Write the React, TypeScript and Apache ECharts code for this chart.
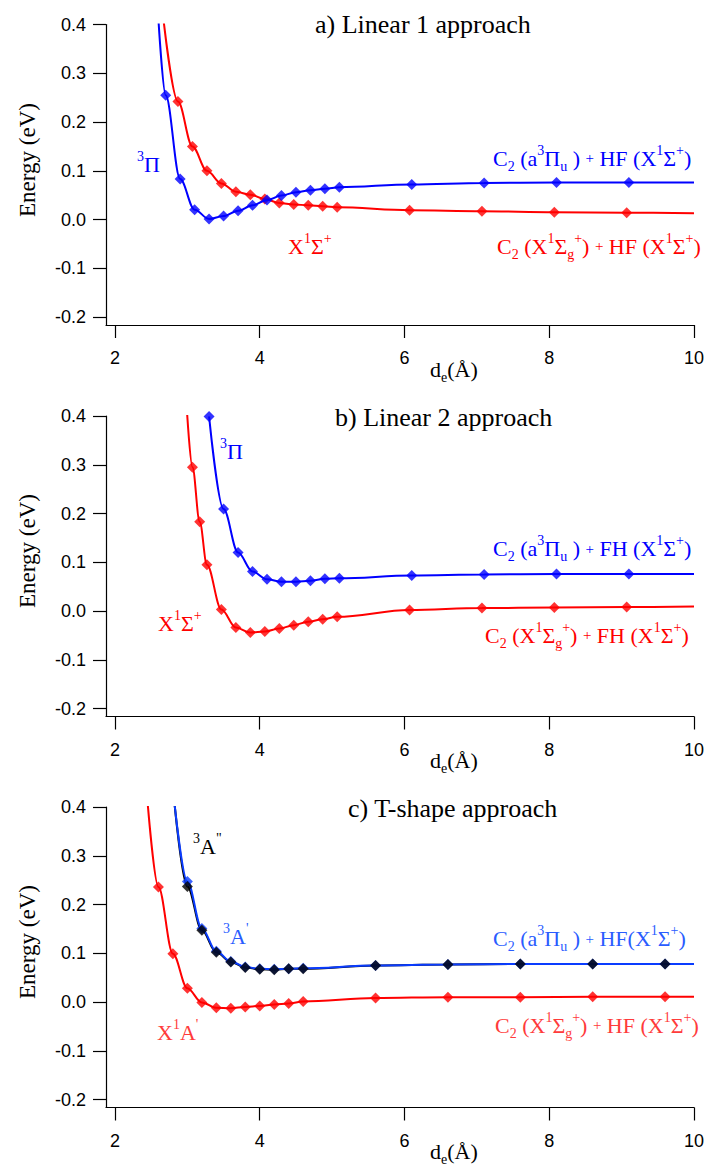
import React, { useEffect, useRef } from "react";
import * as echarts from "echarts";

const SERIF = "'Liberation Serif', 'Times New Roman', serif";
const SANS = "'Liberation Sans', Arial, sans-serif";

const BLUE = "#0000ff";
const RED = "#ff0000";
const BLUE_C = "#0a3cff";
const BLACK = "#000000";

// axis ticks
const xTicks = [2, 4, 6, 8, 10];
const yTicks = [-0.2, -0.1, 0, 0.1, 0.2, 0.3, 0.4];

// ---------- a) Linear 1 approach ----------
const aPiX = [2.7, 2.9, 3.1, 3.3, 3.5, 3.7, 3.9, 4.1, 4.3, 4.5, 4.7, 4.9, 5.1, 6.1, 7.1, 8.1, 9.1];
const aPiE = [0.255, 0.083, 0.02, 0.001, 0.007, 0.018, 0.029, 0.04, 0.049, 0.056, 0.06, 0.063, 0.066, 0.072, 0.075, 0.076, 0.076];
const aPiStart = [2.6, 0.41];
const aPiEnd = [10, 0.076];

const aSigX = [2.87, 3.07, 3.27, 3.47, 3.67, 3.87, 4.07, 4.27, 4.47, 4.67, 4.87, 5.07, 6.07, 7.07, 8.07, 9.07];
const aSigE = [0.242, 0.15, 0.1, 0.074, 0.057, 0.051, 0.042, 0.034, 0.031, 0.029, 0.027, 0.025, 0.019, 0.017, 0.015, 0.014];
const aSigStart = [2.67, 0.41];
const aSigEnd = [10, 0.013];

// ---------- b) Linear 2 approach ----------
const bPiX = [3.3, 3.5, 3.7, 3.9, 4.1, 4.3, 4.5, 4.7, 4.9, 5.1, 6.1, 7.1, 8.1, 9.1];
const bPiE = [0.399, 0.209, 0.12, 0.081, 0.065, 0.06, 0.06, 0.062, 0.066, 0.067, 0.073, 0.075, 0.076, 0.076];
const bPiEnd = [10, 0.076];

const bSigX = [3.07, 3.17, 3.27, 3.47, 3.67, 3.87, 4.07, 4.27, 4.47, 4.67, 4.87, 5.07, 6.07, 7.07, 8.07, 9.07];
const bSigE = [0.295, 0.183, 0.095, 0.003, -0.034, -0.044, -0.042, -0.036, -0.029, -0.022, -0.017, -0.012, 0.002, 0.006, 0.007, 0.008];
const bSigStart = [2.99, 0.42];
const bSigEnd = [10, 0.009];

// ---------- c) T-shape approach ----------
const cTripX = [3.0, 3.2, 3.4, 3.6, 3.8, 4.0, 4.2, 4.4, 4.6, 5.6, 6.6, 7.6, 8.6, 9.6];
const cA2E = [0.237, 0.147, 0.102, 0.082, 0.071, 0.067, 0.066, 0.068, 0.068, 0.075, 0.077, 0.078, 0.078, 0.078]; // 3A''
const cA1E = [0.247, 0.151, 0.104, 0.083, 0.072, 0.068, 0.067, 0.068, 0.069, 0.075, 0.077, 0.078, 0.078, 0.078]; // 3A'
const cTripStart = [2.82, 0.41];
const cTripEnd = [10, 0.078];

const cSingX = [2.6, 2.8, 3.0, 3.2, 3.4, 3.6, 3.8, 4.0, 4.2, 4.4, 4.6, 5.6, 6.6, 7.6, 8.6, 9.6];
const cSingE = [0.236, 0.099, 0.028, -0.001, -0.012, -0.013, -0.01, -0.008, -0.005, -0.003, 0.001, 0.008, 0.01, 0.01, 0.011, 0.011];
const cSingStart = [2.45, 0.41];
const cSingEnd = [10, 0.011];

const GRID_TOPS = [24.5, 416, 807];
const GRID_H = 300.5;
const X_MIN = 1.8756;
const X_MAX = 10;
const Y_MIN = -0.2164;
const Y_MAX = 0.4;

function zip(xs: number[], ys: number[]) {
  return xs.map((x, i) => [x, ys[i]]);
}

function rich(color: string) {
  return {
    n: { fontFamily: SERIF, fontSize: 22, fill: color, lineHeight: 30 },
    sup: { fontFamily: SERIF, fontSize: 14, fill: color, lineHeight: 14, verticalAlign: "top" },
    sub: { fontFamily: SERIF, fontSize: 14, fill: color, lineHeight: 14, verticalAlign: "bottom" },
    pl: { fontFamily: SERIF, fontSize: 15, fill: color, lineHeight: 30 },
  };
}

function label(x: number, y: number, text: string, color: string) {
  return {
    type: "text",
    x,
    y,
    silent: true,
    style: {
      text,
      fill: color,
      fontFamily: SERIF,
      fontSize: 22,
      align: "left",
      verticalAlign: "middle",
      rich: rich(color),
    },
  };
}

function plain(x: number, y: number, text: string, size: number, rotation = 0, align = "left") {
  return {
    type: "text",
    x,
    y,
    rotation,
    silent: true,
    style: {
      text,
      fill: BLACK,
      fontFamily: SERIF,
      fontSize: size,
      align,
      verticalAlign: "middle",
    },
  };
}

function lineSeries(idx: number, data: number[][], color: string, z: number) {
  return {
    type: "line",
    xAxisIndex: idx,
    yAxisIndex: idx,
    data,
    showSymbol: false,
    symbol: "none",
    smooth: 0.35,
    smoothMonotone: "x",
    clip: true,
    lineStyle: { color, width: 2 },
    z,
  };
}

function markSeries(idx: number, data: number[][], color: string, z: number) {
  return {
    type: "scatter",
    xAxisIndex: idx,
    yAxisIndex: idx,
    data,
    symbol: "diamond",
    symbolSize: 11,
    itemStyle: { color },
    z,
  };
}

const C2_PI_HF = "{n|C}{sub|2}{n| (a}{sup|3}{n|Π}{sub|u}{n| ) }{pl|+}{n| HF (X}{sup|1}{n|Σ}{sup|+}{n|)}";
const C2_SIG_HF = "{n|C}{sub|2}{n| (X}{sup|1}{n|Σ}{sub|g}{sup|+}{n|) }{pl|+}{n| HF (X}{sup|1}{n|Σ}{sup|+}{n|)}";
const C2_PI_FH = "{n|C}{sub|2}{n| (a}{sup|3}{n|Π}{sub|u}{n| ) }{pl|+}{n| FH (X}{sup|1}{n|Σ}{sup|+}{n|)}";
const C2_SIG_FH = "{n|C}{sub|2}{n| (X}{sup|1}{n|Σ}{sub|g}{sup|+}{n|) }{pl|+}{n| FH (X}{sup|1}{n|Σ}{sup|+}{n|)}";
const C2_PI_HF_C = "{n|C}{sub|2}{n| (a}{sup|3}{n|Π}{sub|u}{n| ) }{pl|+}{n| HF(X}{sup|1}{n|Σ}{sup|+}{n|)}";

export default function App() {
  const ref = useRef<HTMLDivElement>(null);
  useEffect(() => {
    document.body.style.margin = "0";
    if (!ref.current) return;
    const chart = echarts.init(ref.current, null, { renderer: "svg" });

    const axisLineStyle = { color: BLACK, width: 1.2 };
    const grids = GRID_TOPS.map((top) => ({ left: 106, width: 588, top, height: GRID_H }));
    const xAxes = GRID_TOPS.map((_, i) => ({
      type: "value",
      gridIndex: i,
      min: X_MIN,
      max: X_MAX,
      axisLine: { show: true, onZero: false, lineStyle: axisLineStyle },
      axisTick: { show: true, inside: false, length: 13, customValues: xTicks, lineStyle: axisLineStyle },
      axisLabel: {
        customValues: xTicks,
        margin: 24,
        fontSize: 18,
        fontFamily: SANS,
        color: BLACK,
        formatter: (v: number) => String(Math.round(v)),
      },
      splitLine: { show: false },
    }));
    const yAxes = GRID_TOPS.map((_, i) => ({
      type: "value",
      gridIndex: i,
      min: Y_MIN,
      max: Y_MAX,
      axisLine: { show: true, onZero: false, lineStyle: axisLineStyle },
      axisTick: { show: true, inside: false, length: 13, customValues: yTicks, lineStyle: axisLineStyle },
      axisLabel: {
        customValues: yTicks,
        margin: 20,
        fontSize: 18,
        fontFamily: SANS,
        color: BLACK,
        showMaxLabel: true,
        formatter: (v: number) => v.toFixed(1),
      },
      splitLine: { show: false },
    }));

    const series = [
      // a
      lineSeries(0, [aSigStart, ...zip(aSigX, aSigE), aSigEnd], RED, 2),
      markSeries(0, zip(aSigX, aSigE), RED, 3),
      lineSeries(0, [aPiStart, ...zip(aPiX, aPiE), aPiEnd], BLUE, 4),
      markSeries(0, zip(aPiX, aPiE), BLUE, 5),
      // b
      lineSeries(1, [bSigStart, ...zip(bSigX, bSigE), bSigEnd], RED, 2),
      markSeries(1, zip(bSigX, bSigE), RED, 3),
      lineSeries(1, [...zip(bPiX, bPiE), bPiEnd], BLUE, 4),
      markSeries(1, zip(bPiX, bPiE), BLUE, 5),
      // c
      lineSeries(2, [cSingStart, ...zip(cSingX, cSingE), cSingEnd], RED, 2),
      markSeries(2, zip(cSingX, cSingE), RED, 3),
      lineSeries(2, [cTripStart, ...zip(cTripX, cA2E), cTripEnd], BLACK, 4),
      lineSeries(2, [cTripStart, ...zip(cTripX, cA1E), cTripEnd], BLUE_C, 5),
      markSeries(2, zip(cTripX, cA1E), BLUE_C, 6),
      markSeries(2, zip(cTripX, cA2E), BLACK, 7),
    ];

    const graphic = [
      plain(315, 24, "a) Linear 1 approach", 26),
      plain(335, 417, "b) Linear 2 approach", 26),
      plain(348, 808, "c) T-shape approach", 26),
      plain(27.5, 160, "Energy (eV)", 23, Math.PI / 2, "center"),
      plain(27.5, 551, "Energy (eV)", 23, Math.PI / 2, "center"),
      plain(27.5, 942, "Energy (eV)", 23, Math.PI / 2, "center"),
      label(430, 369, "{n|d}{sub|e}{n|(Å)}", BLACK),
      label(430, 760, "{n|d}{sub|e}{n|(Å)}", BLACK),
      label(430, 1151, "{n|d}{sub|e}{n|(Å)}", BLACK),
      // a
      label(137, 164.5, "{sup|3}{n|Π}", BLUE),
      label(288, 246, "{n|X}{sup|1}{n|Σ}{sup|+}", RED),
      label(493, 158, C2_PI_HF, BLUE),
      label(497, 246, C2_SIG_HF, RED),
      // b
      label(220, 451.5, "{sup|3}{n|Π}", BLUE),
      label(158, 623, "{n|X}{sup|1}{n|Σ}{sup|+}", RED),
      label(493, 548.5, C2_PI_FH, BLUE),
      label(485, 635, C2_SIG_FH, RED),
      // c
      label(193, 846, "{sup|3}{n|A}{sup|\"}", BLACK),
      label(223, 936.5, "{sup|3}{n|A}{sup|'}", "#2a5cff"),
      label(157, 1032, "{n|X}{sup|1}{n|A}{sup|'}", "#ff3b3b"),
      label(493, 938.5, C2_PI_HF_C, "#2a5cff"),
      label(495, 1025, C2_SIG_HF, "#ff3b3b"),
    ];

    chart.setOption({
      animation: false,
      backgroundColor: "#ffffff",
      grid: grids,
      xAxis: xAxes,
      yAxis: yAxes,
      series,
      graphic,
    });
    return () => chart.dispose();
  }, []);
  return <div ref={ref} style={{ width: 707, height: 1172 }} />;
}
